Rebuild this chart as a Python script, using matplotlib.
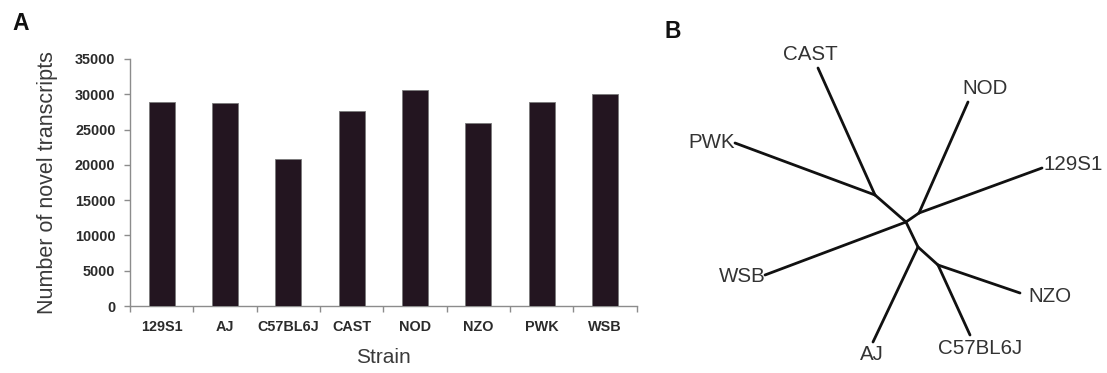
import matplotlib
matplotlib.use("Agg")
import matplotlib.pyplot as plt
import numpy as np

# ---------------- data ----------------
strains = ["129S1", "AJ", "C57BL6J", "CAST", "NOD", "NZO", "PWK", "WSB"]
novel_transcripts = [28900, 28700, 20900, 27600, 30600, 25900, 28900, 30100]
yticks = [0, 5000, 10000, 15000, 20000, 25000, 30000, 35000]

# unrooted tree layout (units)
node_names = ["CAST", "PWK", "NOD", "129S1", "WSB", "AJ", "NZO", "C57BL6J",
              "n_cp", "n_center", "n_n1", "n_lower", "n_nc"]
node_x = [818, 735, 968, 1042, 765, 873, 1020, 970, 875, 906, 919, 918, 938]
node_y = [68, 143, 102, 168, 275, 342, 293, 335, 195, 222, 213, 247, 265]
edges = [("n_cp", "CAST"), ("n_cp", "PWK"), ("n_center", "n_cp"),
         ("n_center", "WSB"), ("n_center", "n_n1"), ("n_n1", "NOD"),
         ("n_n1", "129S1"), ("n_center", "n_lower"), ("n_lower", "AJ"),
         ("n_lower", "n_nc"), ("n_nc", "NZO"), ("n_nc", "C57BL6J")]

# ---------------- style ----------------
label_offsets = {"CAST": (-8, 13), "NOD": (17, 14), "PWK": (-23, 1),
                 "129S1": (31, 3), "WSB": (-23, -1), "NZO": (30, -4),
                 "AJ": (-1, -13), "C57BL6J": (10, -13)}
bar_color = "#231520"
axis_gray = "#8c8c8c"
txt = "#2b2b2b"
font = "Liberation Sans"
plt.rcParams["font.family"] = [font, "DejaVu Sans"]

fig = plt.figure(figsize=(11.07, 3.73), dpi=100)
W, H = 1107, 373

# ---------------- panel A ----------------
axA = fig.add_axes([130 / W, 1 - 306 / H, (636.7 - 130) / W, 247 / H])
x = np.arange(len(strains)) + 0.5
axA.bar(x, novel_transcripts, width=0.41, color=bar_color,
        edgecolor="#7a7a7a", linewidth=0.6, zorder=3)
axA.set_xlim(0, len(strains))
axA.set_ylim(0, 35000)
axA.set_yticks(yticks)
axA.set_yticklabels([str(v) for v in yticks], fontsize=10.4,
                    fontweight="bold", color=txt)
axA.set_xticks(np.arange(len(strains) + 1))
axA.set_xticklabels([])
axA.set_xticks(x, minor=True)
axA.set_xticklabels(strains, minor=True, fontsize=10.4, fontweight="bold",
                    color=txt)
axA.tick_params(axis="x", which="minor", length=0, pad=10)
axA.tick_params(axis="x", which="major", length=4, width=1, color=axis_gray,
                direction="out")
axA.tick_params(axis="y", length=4.5, width=1, color=axis_gray,
                direction="out", pad=6)
for s in ["top", "right"]:
    axA.spines[s].set_visible(False)
for s in ["left", "bottom"]:
    axA.spines[s].set_color(axis_gray)
    axA.spines[s].set_linewidth(1)
axA.set_ylabel("Number of novel transcripts", fontsize=15.5, color="#3a3a3a",
               labelpad=12)
axA.set_xlabel("Strain", fontsize=15, color="#3a3a3a", labelpad=10)

fig.text(12 / W, 1 - 24 / H, "A", fontsize=16.5, fontweight="bold",
         va="center", ha="left", color="#111111")
fig.text(665 / W, 1 - 32 / H, "B", fontsize=16.5, fontweight="bold",
         va="center", ha="left", color="#111111")

# ---------------- panel B ----------------
axB = fig.add_axes([640 / W, 0, (W - 640) / W, 1])
axB.set_xlim(640, W)
axB.set_ylim(H, 0)
axB.axis("off")
pos = {n: (xx, yy) for n, xx, yy in zip(node_names, node_x, node_y)}
for a, b in edges:
    axB.plot([pos[a][0], pos[b][0]], [pos[a][1], pos[b][1]],
             color="#111111", lw=2.0, solid_capstyle="round")
for name, (dx, dy) in label_offsets.items():
    axB.annotate(name, xy=pos[name], xytext=(dx, dy),
                 textcoords="offset pixels", ha="center", va="center",
                 fontsize=14.8, color="#333333")

fig.savefig("out.png", dpi=100)
